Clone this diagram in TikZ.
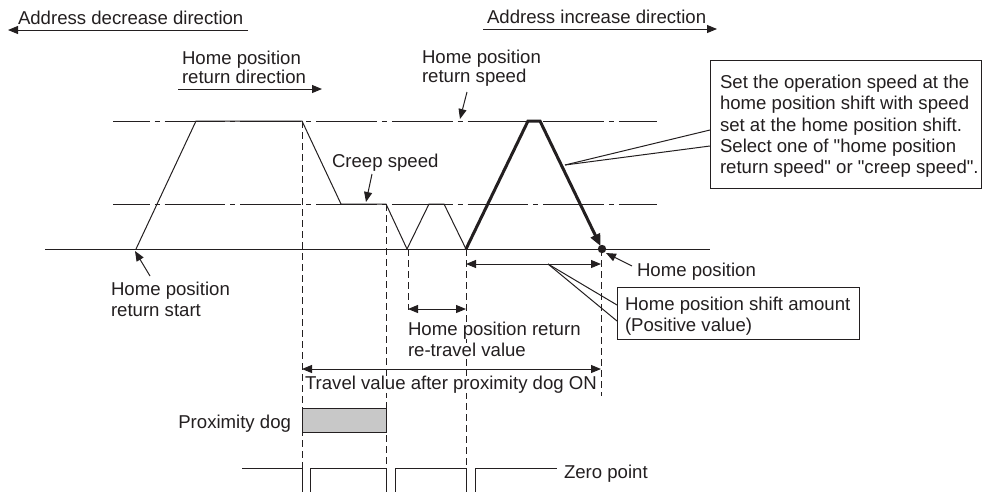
\documentclass[tikz,border=0pt]{standalone}
\usepackage{fontspec}
\setmainfont{Liberation Sans}[Ligatures=TeXOff]
\usetikzlibrary{arrows.meta}
\definecolor{ink}{HTML}{231F20}
\definecolor{dogfill}{HTML}{C8C8C8}
\tikzset{
  txt/.style={inner sep=0pt, outer sep=0pt, anchor=base west, text=ink, fill=white, font=\fontsize{18.6}{21.3}\selectfont},
  ln/.style={draw=ink, line width=1pt},
  arr/.style={-{Triangle[length=10pt,width=8pt]}},
  darr/.style={{Triangle[length=10pt,width=8pt]}-{Triangle[length=10pt,width=8pt]}},
  dashdot/.style={draw=ink, line width=0.8pt, dash pattern=on 60.7pt off 5pt on 5pt off 5pt, dash phase=24pt},
  vdash/.style={draw=ink, line width=0.9pt, dash pattern=on 7pt off 4pt},
  boldpath/.style={draw=ink, line width=3pt, line join=miter},
  boxstyle/.style={draw=ink, line width=1pt, inner sep=0pt, outer sep=0pt, anchor=north west},
}
\begin{document}
\begin{tikzpicture}[x=1pt,y=-1pt]
\useasboundingbox (0,0) rectangle (982,491);

% ---- coordinates ----
\coordinate (decR) at (248,30);  \coordinate (decL) at (8,30);
\coordinate (dirL) at (178,89);  \coordinate (dirR) at (322,89);
\coordinate (incL) at (483,29);  \coordinate (incR) at (717,29);
\coordinate (hsL) at (113,121);  \coordinate (hsR) at (657,121);
\coordinate (csL) at (113,204);  \coordinate (csR) at (657,204);
\coordinate (bL) at (45,249);    \coordinate (bR) at (710,249);
\coordinate (p0) at (136,249);
\coordinate (p1) at (196,121);
\coordinate (p2) at (302,121);
\coordinate (p3) at (341,204);
\coordinate (p4) at (386,204);
\coordinate (p5) at (407,249);
\coordinate (p6) at (429,204);
\coordinate (p7) at (444,204);
\coordinate (p8) at (466,249);
\coordinate (q1) at (528,121);
\coordinate (q2) at (540,121);
\coordinate (hpend) at (600.5,246);
\coordinate (hp) at (602,249);

% ---- direction arrows ----
\draw[ln,arr] (decR) -- (decL);
\draw[ln,arr] (dirL) -- (dirR);
\draw[ln,arr] (incL) -- (incR);

% ---- speed levels ----
\draw[dashdot] (hsL) -- (hsR);
\draw[dashdot] (csL) -- (csR);
\draw[ln] (bL) -- (bR);

% ---- dashed verticals ----
\draw[vdash] (302,121) -- (302,468);
\draw[vdash] (386,204) -- (386,468);
\draw[vdash] (408,249) -- (408,310);
\draw[vdash] (466,249) -- (466,468);
\draw[vdash] (601,249) -- (601,396);

% ---- speed profile ----
\draw[ln, line join=miter] (p0) -- (p1) -- (p2) -- (p3) -- (p4) -- (p5) -- (p6) -- (p7) -- (p8);
\draw[boldpath,-{Triangle[length=12pt,width=10pt]}] (p8) -- (q1) -- (q2) -- (hpend);
\fill[ink] (hp) circle (4.2);

% ---- dimension arrows ----
\coordinate (shL) at (466,264); \coordinate (shR) at (601,264);
\coordinate (rtL) at (408,309); \coordinate (rtR) at (466,309);
\coordinate (tvL) at (302,369); \coordinate (tvR) at (601,369);
\draw[ln,darr] (shL) -- (shR);
\draw[ln,darr] (rtL) -- (rtR);
\draw[ln,darr] (tvL) -- (tvR);

% ---- callout box (top right) ----
\node[boxstyle, minimum width=271pt, minimum height=128pt] (callbox) at (710,60) {};
\coordinate (cb1) at (710,130); \coordinate (cb2) at (710,146);
\coordinate (cbp) at (565,165);
\draw[ln] (cbp) -- (cb1);
\draw[ln] (cbp) -- (cb2);
\node[txt] (c1) at (720,88.3) {Set the operation speed at the};
\node[txt] (c2) at (720,109.7) {home position shift with speed};
\node[txt] (c3) at (720,131) {set at the home position shift.};
\node[txt] (c4) at (720,152.4) {Select one of "home position};
\node[txt] (c5) at (720,173.8) {return speed" or "creep speed".};

% ---- shift amount box ----
\node[boxstyle, minimum width=242pt, minimum height=52pt] (shbox) at (617,287) {};
\coordinate (sb1) at (617,305); \coordinate (sb2) at (617,321);
\coordinate (sbp) at (548,264);
\draw[ln] (sbp) -- (sb1);
\draw[ln] (sbp) -- (sb2);
\node[txt] (s1) at (625,310) {Home position shift amount};
\node[txt] (s2) at (625,331) {(Positive value)};

% ---- labels and pointers ----
\node[txt] (t1) at (18,24) {Address decrease direction};
\node[txt] (t2a) at (182,64) {Home position};
\node[txt] (t2b) at (182,83) {return direction};
\node[txt] (t3) at (487,23) {Address increase direction};
\node[txt] (t4a) at (422,63) {Home position};
\node[txt] (t4b) at (422,82) {return speed};
\node[txt] (t5) at (332,167) {Creep speed};
\node[txt] (t7) at (637,276) {Home position};
\node[txt] (t9a) at (111,295) {Home position};
\node[txt] (t9b) at (111,316) {return start};
\node[txt] (t10a) at (408,335) {Home position return};
\node[txt] (t10b) at (408,356) {re-travel value};
\node[txt] (t11) at (305,389) {Travel value after proximity dog ON};
\node[txt, anchor=base east] (t12) at (291,428) {Proximity dog};
\node[txt] (t13) at (564,478) {Zero point};

\coordinate (hsp0) at (467,92);  \coordinate (hsp1) at (460,119);
\coordinate (csp0) at (372,174); \coordinate (csp1) at (366,202);
\coordinate (stp0) at (150,276); \coordinate (stp1) at (135,251);
\coordinate (hpp0) at (632,266); \coordinate (hpp1) at (606,253);
\draw[ln,arr] (hsp0) -- (hsp1);
\draw[ln,arr] (csp0) -- (csp1);
\draw[ln,arr] (stp0) -- (stp1);
\draw[ln,arr] (hpp0) -- (hpp1);

% ---- proximity dog ----
\node[boxstyle, fill=dogfill, minimum width=84pt, minimum height=24pt] (dog) at (302,408) {};

% ---- zero point signal ----
\draw[ln, line join=miter] (242,468) -- (302,468) -- (302,496) -- (310,496) -- (310,468)
  -- (386,468) -- (386,496) -- (395,496) -- (395,468)
  -- (466,468) -- (466,496) -- (475,496) -- (475,468) -- (557,468);
\end{tikzpicture}
\end{document}
